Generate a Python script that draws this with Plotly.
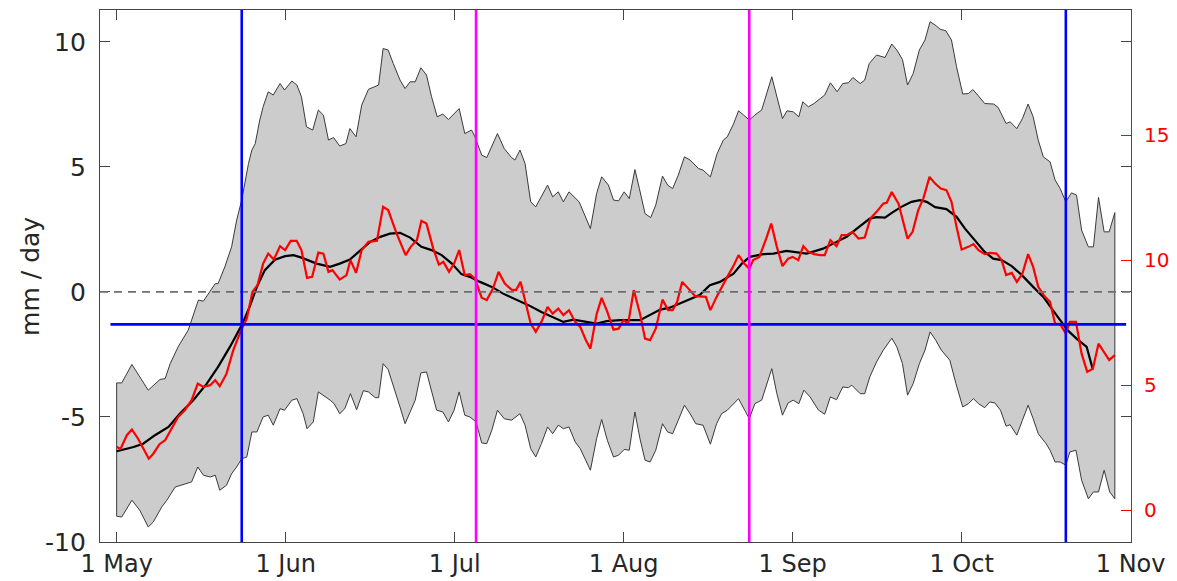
import plotly.graph_objects as go

# ---------------- data (days after 1 May, 30-day month axis) ----------------
upper_day = [0, 0.9, 2.7, 5.6, 7.7, 8.6, 9.5, 10.9, 12.7, 14.5, 15.4, 17.5, 18, 19.2, 20.4, 21.3, 22.2,
             23.4, 24, 24.6, 25.4, 26, 26.9, 27.8, 29, 29.8, 31.1, 32, 32.8, 33.7, 34.8, 35.8, 36.7,
             37.6, 38.5, 39.6, 40.7, 41.4, 42.5, 43.5, 44.7, 46.5, 47.3, 48.2, 49.1, 50.3, 51.2, 52.1,
             53, 54, 55, 55.9, 56.9, 57.9, 58.9, 60.8, 61.8, 63, 63.6, 64.8, 65.7, 67.6, 68.8, 70.1,
             70.7, 71.6, 72.5, 73.5, 74.4, 76.5, 77.4, 78.4, 79.3, 80.3, 82.1, 83.3, 84.1, 85.2, 86.1,
             87.3, 88.2, 89.1, 90.1, 91, 92, 92.8, 93.8, 94.8, 95.7, 96.9, 97.8, 98.7, 99.7, 100.8,
             101.8, 103.3, 104.1, 105.4, 106.6, 107.7, 108.4, 109.5, 110.4, 111.3, 112.3, 113.3, 114.5,
             116.3, 117.2, 118.2, 119, 120.1, 121.1, 121.8, 122.8, 123.8, 124.9, 125.7, 126.7, 127.9,
             128.9, 129.9, 130.7, 132, 132.8, 133.6, 134.9, 136.4, 137.6, 138.5, 139.5, 140.4, 141.4,
             142.5, 143.5, 144.4, 145.3, 146.2, 147.2, 148.2, 149.1, 150.2, 151.2, 152, 153, 154.1,
             155.7, 156.5, 157.9, 158.6, 159.8, 160.8, 161.8, 162.7, 163.6, 164.5, 165.7, 166.6, 167.5,
             168.5, 169.5, 170.4, 171.3, 172.5, 173.4, 174.3, 175.3, 176.2, 177.2]
upper_val = [-3.64, -3.64, -2.9, -3.93, -3.5, -3.47, -2.87, -2.2, -1.53, -0.33, -0.37, 0.33, 0.33, 1.0,
             1.8, 2.87, 3.67, 5.13, 5.67, 5.93, 6.87, 7.4, 8.0, 7.87, 8.33, 8.07, 8.43, 8.27, 7.8, 6.6,
             6.47, 7.27, 7.07, 6.07, 6.17, 5.83, 5.93, 6.53, 6.2, 7.47, 8.1, 8.27, 9.73, 9.67, 9.13,
             8.47, 8.13, 8.4, 8.4, 8.96, 8.67, 7.8, 7.0, 7.11, 6.89, 7.33, 6.33, 6.47, 6.2, 5.47, 5.37,
             6.33, 5.73, 5.37, 5.27, 5.67, 5.13, 3.6, 3.4, 4.27, 3.8, 4.0, 3.6, 4.0, 3.6, 3.0, 2.53,
             3.93, 4.6, 4.27, 3.67, 3.64, 4.0, 3.73, 4.89, 4.13, 3.13, 2.97, 3.47, 4.63, 4.27, 4.13,
             4.67, 5.4, 5.27, 4.93, 4.87, 4.6, 5.53, 6.07, 6.2, 6.71, 7.24, 7.07, 6.87, 7.07, 7.27, 8.6,
             7.8, 6.93, 7.24, 7.2, 7.0, 7.6, 7.4, 7.53, 7.73, 7.87, 8.36, 8.0, 8.33, 8.36, 8.57, 8.33,
             8.47, 9.13, 9.47, 9.37, 9.91, 9.67, 9.29, 8.27, 8.73, 9.67, 10.07, 10.8, 10.67, 10.5,
             10.44, 10.07, 9.0, 7.91, 7.93, 8.09, 7.83, 7.53, 7.51, 7.37, 6.73, 6.8, 6.53, 6.93, 7.51,
             7.0, 6.07, 5.4, 5.2, 4.47, 4.13, 3.6, 3.96, 3.87, 2.47, 1.8, 1.8, 3.78, 2.4, 2.4, 3.17]

lower_day = [0, 0.9, 2.7, 4.1, 5.6, 6.5, 8.0, 8.9, 10.4, 11.5, 13.3, 14.4, 15.4, 16.6, 17.5, 18.3, 19.5,
             20.4, 21.3, 22.2, 23.1, 24, 24.9, 26, 26.9, 27.8, 29, 29.8, 31.1, 32, 33.1, 33.8, 34.9,
             35.8, 37.9, 38.6, 39.6, 40.5, 41.5, 42.6, 43.8, 44.7, 45.9, 46.5, 47.3, 48.2, 49.1, 50.3,
             51.2, 52.1, 53, 54, 55, 55.9, 56.8, 57.9, 58.9, 59.9, 60.8, 61.8, 62.7, 63.8, 64.8, 65.7,
             66.6, 67.6, 68.8, 70.1, 71.6, 72.5, 73.5, 74.4, 75.4, 76.5, 77.4, 78.4, 79.3, 80.3, 81.4,
             82.3, 84.1, 85.2, 86.1, 87.1, 88.2, 89.1, 90.1, 91, 92, 92.9, 93.8, 94.7, 95.7, 96.9, 97.8,
             98.7, 99.7, 100.8, 101.8, 102.8, 104.1, 105.4, 106.5, 107.4, 108.4, 110.4, 111.2, 112.3,
             113.3, 114.5, 116.3, 117.2, 118.2, 119.2, 120.1, 121.1, 122, 123.1, 124.6, 125.7, 126.7,
             127.8, 128.9, 129.9, 130.5, 132, 132.8, 133.7, 134.9, 136.1, 137.6, 138.5, 139.5, 140.4,
             141.4, 142.5, 143.5, 144.4, 145.4, 146.4, 147.9, 149, 150.2, 151.2, 152.1, 153, 154.1, 155,
             155.9, 156.9, 157.9, 158.6, 159.8, 160.8, 161.8, 162.7, 163.6, 165, 165.7, 166.6, 167.5,
             168.5, 169.2, 170.3, 171.3, 172.5, 173.4, 174.3, 175.3, 176.3, 177.2]
lower_val = [-8.97, -9.0, -8.33, -8.73, -9.4, -9.2, -8.6, -8.33, -7.8, -7.73, -7.6, -7.0, -7.33, -7.4,
             -7.33, -7.93, -7.73, -7.27, -7.0, -6.67, -6.6, -5.6, -5.6, -5.0, -4.93, -5.33, -4.67, -4.73,
             -4.33, -4.27, -4.87, -5.47, -5.2, -4.0, -4.33, -4.47, -4.87, -4.67, -4.07, -4.71, -3.95,
             -4.0, -4.23, -4.23, -2.87, -3.11, -3.8, -4.6, -5.27, -4.8, -4.33, -3.24, -3.2, -3.93, -4.73,
             -4.8, -5.2, -4.73, -4.0, -4.93, -5.0, -5.2, -6.04, -6.07, -5.53, -4.73, -5.07, -5.13, -4.87,
             -5.33, -6.27, -6.6, -6.07, -5.4, -5.67, -5.33, -5.47, -5.4, -6.0, -6.27, -7.13, -5.87, -5.1,
             -5.93, -6.6, -6.53, -6.3, -6.33, -4.8, -5.87, -6.73, -6.8, -6.33, -5.27, -5.6, -5.67, -5.13,
             -4.53, -4.87, -5.27, -5.33, -6.09, -5.27, -4.87, -4.73, -4.27, -4.6, -5.07, -4.47, -4.33,
             -3.07, -4.07, -4.93, -4.44, -4.33, -4.47, -3.93, -4.2, -4.73, -4.89, -4.2, -4.31, -3.8,
             -3.83, -3.73, -4.07, -4.07, -3.4, -2.8, -2.33, -1.85, -2.2, -2.87, -4.13, -3.67, -2.87,
             -2.33, -1.6, -1.93, -2.33, -2.73, -3.67, -4.6, -4.47, -4.27, -4.47, -4.63, -4.4, -4.44,
             -4.73, -5.37, -5.31, -5.73, -5.13, -4.53, -5.07, -5.67, -6.07, -6.33, -6.8, -6.8, -6.93,
             -6.4, -6.33, -7.53, -8.27, -8.0, -8.0, -7.13, -8.0, -8.27]

mean_day = [0, 3.0, 4.7, 6.8, 9.2, 11.2, 13.6, 16, 18, 20.1, 22.2, 23.6, 24.9, 26.3, 28.1, 29.9, 31.4,
            32.8, 35.5, 37.9, 39.6, 41.4, 42.6, 44.4, 45, 46.8, 48.5, 50.3, 52.1, 54.1, 55.9, 57.7,
            59.5, 61.2, 62.7, 64.5, 66.6, 68.6, 71, 73.1, 75.4, 77.5, 79.3, 81.1, 83.4, 85.2, 87, 89.4,
            92.9, 94.7, 96.5, 98.2, 101.2, 103.5, 105.3, 107.1, 109.5, 111, 112.4, 114.8, 116.6, 118.9,
            122.5, 125.4, 127.8, 129.6, 131.4, 133.7, 134.9, 136.4, 137.6, 139.3, 141.1, 142.6, 143.8,
            145.3, 147.3, 149.1, 150.6, 152.4, 154.1, 155.6, 157.1, 158.9, 160.7, 162.7, 164.5, 166,
            167.5, 168.8, 170.4, 172.2, 173.3]
mean_val = [-6.37, -6.2, -6.07, -5.73, -5.4, -4.87, -4.33, -3.67, -3.0, -2.2, -1.33, -0.6, 0.2, 0.87,
            1.29, 1.43, 1.47, 1.37, 1.13, 1.0, 1.13, 1.29, 1.53, 1.87, 2.0, 2.2, 2.33, 2.36, 2.17, 1.8,
            1.67, 1.47, 1.13, 0.71, 0.6, 0.4, 0.2, -0.07, -0.31, -0.53, -0.8, -1.03, -1.2, -1.11, -1.2,
            -1.27, -1.17, -1.13, -1.13, -0.93, -0.71, -0.63, -0.36, -0.13, 0.27, 0.4, 0.73, 1.13, 1.4,
            1.51, 1.53, 1.64, 1.53, 1.73, 2.0, 2.2, 2.53, 2.93, 2.99, 2.97, 3.16, 3.4, 3.6, 3.67, 3.6,
            3.39, 3.31, 3.0, 2.53, 2.07, 1.6, 1.33, 1.27, 1.03, 0.67, 0.2, -0.2, -0.67, -1.13, -1.53,
            -1.87, -2.2, -3.1]

# red series, in units of the right (red) axis
red_day = [0, 0.7, 1.8, 2.7, 3.8, 5.7, 6.5, 7.6, 8.6, 9.8, 10.9, 12.1, 13.3, 14.4, 15.4, 16.6, 17.5,
           18.3, 19.5, 20.7, 22.2, 23.1, 24.1, 25.0, 26.0, 26.9, 27.9, 29.0, 29.9, 30.9, 31.95, 32.8,
           33.8, 34.7, 35.8, 36.7, 37.6, 38.3, 39.6, 40.8, 41.5, 42.5, 43.5, 44.7, 46.2, 47.3, 48.2,
           49.7, 51.3, 52.2, 53.3, 54.1, 55.0, 56.2, 57.2, 58.0, 59.0, 59.9, 60.8, 61.8, 62.7, 63.6,
           64.8, 65.7, 66.8, 67.8, 68.9, 70.1, 70.9, 71.7, 72.6, 73.5, 74.4, 75.4, 76.5, 77.4, 78.4,
           79.3, 80.3, 81.4, 82.3, 83.3, 84.1, 85.2, 86.1, 87.1, 88.2, 89.1, 90.0, 90.8, 91.8, 92.9,
           93.8, 94.7, 95.7, 96.9, 97.9, 98.7, 99.5, 100.4, 101.5, 102.7, 104.6, 105.4, 106.5, 107.4,
           108.4, 109.4, 110.4, 111.4, 112.3, 113.0, 114.1, 115.3, 116.2, 117.2, 118.2, 119.2, 120.0,
           121.0, 121.9, 122.8, 123.8, 124.9, 125.7, 126.7, 127.8, 128.7, 129.6, 130.6, 131.7, 132.8,
           133.8, 134.9, 136.1, 136.7, 137.6, 138.8, 139.6, 140.4, 141.3, 142.3, 143.2, 144.3, 145.3,
           146.3, 147.3, 148.2, 149.1, 150.0, 151.2, 152.1, 153.0, 154.1, 155.0, 156.2, 157.1, 157.9,
           158.9, 159.8, 160.8, 161.8, 162.7, 163.6, 164.8, 165.7, 166.6, 167.5, 168.5, 169.2, 170.3,
           171.3, 172.3, 173.3, 174.3, 175.1, 176.2, 177.2]
red_val = [2.53, 2.46, 3.0, 3.23, 2.86, 2.06, 2.26, 2.64, 2.8, 3.26, 3.73, 4.0, 4.4, 5.06, 4.93, 5.0,
           5.2, 4.96, 5.46, 6.4, 7.26, 7.66, 8.73, 9.0, 9.86, 10.26, 10.02, 10.56, 10.4, 10.77, 10.77,
           10.4, 9.29, 9.33, 10.3, 10.26, 9.53, 9.6, 9.22, 9.4, 10.0, 9.49, 10.4, 10.73, 10.77, 12.13,
           12.0, 11.06, 10.2, 10.53, 10.8, 11.57, 11.46, 10.46, 9.82, 9.93, 9.53, 9.86, 10.4, 9.4, 9.44,
           9.26, 8.5, 8.4, 8.86, 9.53, 9.06, 8.82, 8.8, 9.13, 8.33, 7.46, 7.13, 7.53, 8.13, 7.86, 8.06,
           7.8, 8.0, 7.53, 7.33, 6.8, 6.46, 7.84, 8.49, 7.93, 7.22, 7.26, 7.6, 7.46, 8.8, 7.86, 6.86,
           6.8, 7.26, 8.42, 8.0, 8.0, 8.33, 9.13, 8.86, 8.56, 8.53, 8.0, 8.53, 8.93, 9.33, 9.73, 10.2,
           9.86, 9.66, 10.0, 10.13, 10.86, 11.46, 10.53, 9.76, 10.06, 10.13, 10.0, 10.56, 10.33, 10.24,
           10.2, 10.2, 10.8, 10.56, 11.0, 11.0, 11.13, 10.86, 10.9, 11.66, 11.93, 12.26, 12.29, 12.72,
           12.26, 11.6, 10.86, 11.13, 12.0, 12.46, 13.33, 13.06, 12.86, 12.8, 12.33, 11.33, 10.42,
           10.53, 10.64, 10.4, 10.24, 10.29, 10.26, 10.0, 9.4, 9.49, 9.13, 9.46, 10.24, 9.73, 8.93,
           8.53, 8.33, 7.46, 7.44, 7.06, 7.53, 7.53, 6.26, 5.53, 5.66, 6.66, 6.4, 6.0, 6.2]

threshold = -1.3                 # blue horizontal line (left axis units)
threshold_span = [-1.1, 179.2]   # days
blue_days = [22.2, 168.5]
magenta_days = [63.8, 112.3]

month_ticks = [0, 30, 60, 90, 120, 150, 180]
month_labels = ["1 May", "1 Jun", "1 Jul", "1 Aug", "1 Sep", "1 Oct", "1 Nov"]
left_ticks = [-10, -5, 0, 5, 10]
left_labels = ["-10", "-5", "0", "5", "10"]
right_ticks = [0, 5, 10, 15]

X_RANGE = [-2.96, 180.07]
Y_RANGE = [-10, 11.27]
Y2_RANGE = [-1.27, 20.0]

FONT = "DejaVu Sans"
TXT = "#262626"

fig = go.Figure()

# grey envelope (closed polygon)
poly_x = upper_day + lower_day[::-1] + [upper_day[0]]
poly_y = upper_val + lower_val[::-1] + [upper_val[0]]
fig.add_trace(go.Scatter(x=poly_x, y=poly_y, mode="lines", fill="toself",
                         fillcolor="#cccccc", line=dict(color="#3a3a3a", width=1),
                         hoverinfo="skip", showlegend=False))

fig.add_trace(go.Scatter(x=mean_day, y=mean_val, mode="lines",
                         line=dict(color="black", width=2.2), showlegend=False))
fig.add_trace(go.Scatter(x=red_day, y=red_val, mode="lines", yaxis="y2",
                         line=dict(color="#ff0000", width=2.2), showlegend=False))

shapes = []
# dashed zero line
shapes.append(dict(type="line", xref="paper", x0=0, x1=1, yref="y", y0=0, y1=0,
                   line=dict(color="#6e6e6e", width=1.6, dash="8px,6px"), layer="above"))
# blue horizontal threshold
shapes.append(dict(type="line", xref="x", x0=threshold_span[0], x1=threshold_span[1],
                   yref="y", y0=threshold, y1=threshold,
                   line=dict(color="#0000ff", width=2.6), layer="above"))
for d in blue_days:
    shapes.append(dict(type="line", xref="x", x0=d, x1=d, yref="paper", y0=0, y1=1,
                       line=dict(color="#0000ff", width=2.6), layer="above"))
for d in magenta_days:
    shapes.append(dict(type="line", xref="x", x0=d, x1=d, yref="paper", y0=0, y1=1,
                       line=dict(color="#ff00ff", width=2.6), layer="above"))

fig.update_layout(
    width=1177, height=581,
    margin=dict(l=100, r=46, t=10, b=39.3, pad=0, autoexpand=False),
    paper_bgcolor="white", plot_bgcolor="white",
    font=dict(family=FONT, size=24, color=TXT),
    showlegend=False, hovermode=False,
    shapes=shapes,
    xaxis=dict(range=X_RANGE, tickvals=month_ticks, ticktext=month_labels, automargin=False,
               ticks="inside", ticklen=10, tickwidth=1, tickcolor="#444444",
               showline=True, linecolor="#444444", linewidth=1.2, mirror="ticks",
               showgrid=False, zeroline=False, ticklabelstandoff=0,
               tickfont=dict(family=FONT, size=24, color=TXT)),
    yaxis=dict(range=Y_RANGE, tickvals=left_ticks, ticktext=left_labels, automargin=False,
               ticks="inside", ticklen=10, tickwidth=1, tickcolor="#444444",
               showline=True, linecolor="#444444", linewidth=1.2, mirror="ticks",
               showgrid=False, zeroline=False, ticklabelstandoff=8,
               tickfont=dict(family=FONT, size=25, color=TXT)),
    yaxis2=dict(range=Y2_RANGE, tickvals=right_ticks, overlaying="y", side="right", automargin=False,
                ticks="inside", ticklen=10, tickwidth=1, tickcolor="#ff0000",
                showline=True, linecolor="#ff0000", linewidth=1.2,
                showgrid=False, zeroline=False, ticklabelstandoff=8,
                tickfont=dict(family=FONT, size=20, color="#ff0000")),
    annotations=[dict(text="mm / day", textangle=-90, xref="paper", yref="paper",
                      x=-0.068, y=0.5, xanchor="center", yanchor="middle", showarrow=False,
                      font=dict(family=FONT, size=25, color=TXT))],
)

fig.write_html("out.html")
